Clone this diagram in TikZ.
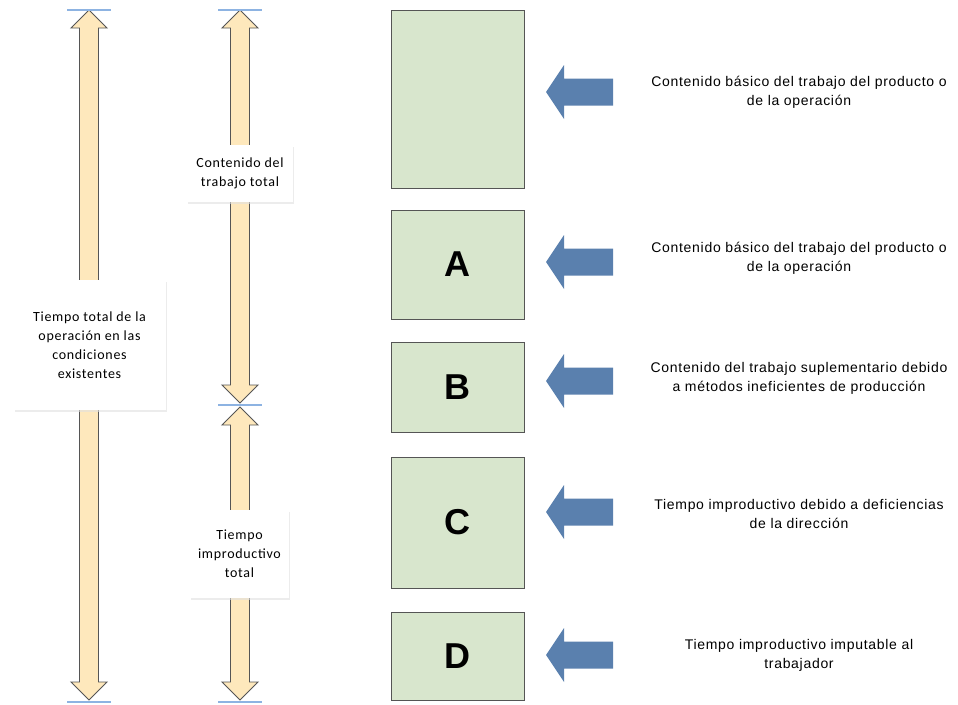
\documentclass[tikz,border=0pt]{standalone}
\usepackage{fontspec}
\setmainfont{Liberation Sans}
\newfontfamily\captionfont[LetterSpace=5]{Liberation Sans}
\newfontfamily\calibrifont[LetterSpace=5]{Carlito}
\usetikzlibrary{shadows}
\definecolor{boxgreen}{HTML}{D8E6CD}
\definecolor{arrowcream}{HTML}{FEE8BC}
\definecolor{arrowblue}{HTML}{5A80AE}
\definecolor{tickblue}{HTML}{8DB3E2}
\definecolor{edgegrey}{HTML}{555555}

\tikzset{
  spanarrow/.style={fill=arrowcream, draw=edgegrey, line width=0.9pt, line join=miter},
  pointer/.style={fill=arrowblue, draw=none},
  tick/.style={draw=tickblue, line width=1.2pt},
  labelbox/.style={fill=white, draw=none, drop shadow={shadow xshift=1pt, shadow yshift=-1.5pt, fill=black!12, opacity=0.6},
    align=center, font=\calibrifont\fontsize{14}{19}\selectfont, inner sep=0pt},
  block/.style={fill=boxgreen, draw=edgegrey, line width=0.9pt, font=\fontsize{36}{36}\bfseries\selectfont},
  caption/.style={align=center, font=\captionfont\fontsize{14}{19}\selectfont, inner sep=0pt},
}

% vertical double-headed arrow: centre x, top tip y, bottom tip y
\newcommand{\spanarrowdraw}[3]{%
  \draw[spanarrow] (#1,#2) -- ++(18,18) -- ++(-8.5,0) -- (#1+9.5,#3-18) -- ++(8.5,0)
    -- (#1,#3) -- ++(-18,-18) -- ++(8.5,0) -- (#1-9.5,#2+18) -- ++(-8.5,0) -- cycle;}
% left-pointing block arrow with its tip at (x,y)
\newcommand{\pointerdraw}[2]{%
  \fill[pointer] (#1,#2) -- ++(18,-27) -- ++(0,13.5) -- ++(49,0) -- ++(0,27) -- ++(-49,0) -- ++(0,13.5) -- cycle;}

\begin{document}
\begin{tikzpicture}[x=1pt, y=-1pt]
  \useasboundingbox (0,0) rectangle (958,704);

  % span arrows on the left
  \spanarrowdraw{89}{10}{700}
  \spanarrowdraw{240}{10}{403}
  \spanarrowdraw{240}{407}{700}

  % ticks marking the span limits
  \draw[tick] (67,10) -- (111,10);
  \draw[tick] (218,10) -- (262,10);
  \draw[tick] (218,405) -- (262,405);
  \draw[tick] (67,702) -- (111,702);
  \draw[tick] (218,702) -- (262,702);

  % labels over the span arrows
  \node[labelbox, minimum width=152, minimum height=130] (total) at (89.5,345)
    {Tiempo total de la\\operación en las\\condiciones\\existentes};
  \node[labelbox, minimum width=106, minimum height=57] (contenido) at (240,173.5)
    {Contenido del\\trabajo total};
  \node[labelbox, minimum width=99, minimum height=88] (improd) at (239.5,554)
    {Tiempo\\improductivo\\total};

  % stacked blocks
  \node[block, minimum width=133, minimum height=178] (base) at (457.5,99) {};
  \node[block, minimum width=133, minimum height=109] (A) at (457.5,264.5) {A};
  \node[block, minimum width=133, minimum height=90] (B) at (457.5,387) {B};
  \node[block, minimum width=133, minimum height=131] (C) at (457.5,522.5) {C};
  \node[block, minimum width=133, minimum height=88] (D) at (457.5,656) {D};

  % pointers
  \pointerdraw{546}{92}
  \pointerdraw{546}{262}
  \pointerdraw{546}{381}
  \pointerdraw{546}{512}
  \pointerdraw{546}{655}

  % descriptions
  \node[caption] (t0) at (799,92) {Contenido básico del trabajo del producto o\\de la operación};
  \node[caption] (tA) at (799,258) {Contenido básico del trabajo del producto o\\de la operación};
  \node[caption] (tB) at (799,378) {Contenido del trabajo suplementario debido\\a métodos ineficientes de producción};
  \node[caption] (tC) at (799,514) {Tiempo improductivo debido a deficiencias\\de la dirección};
  \node[caption] (tD) at (799,655) {Tiempo improductivo imputable al\\trabajador};
\end{tikzpicture}
\end{document}
